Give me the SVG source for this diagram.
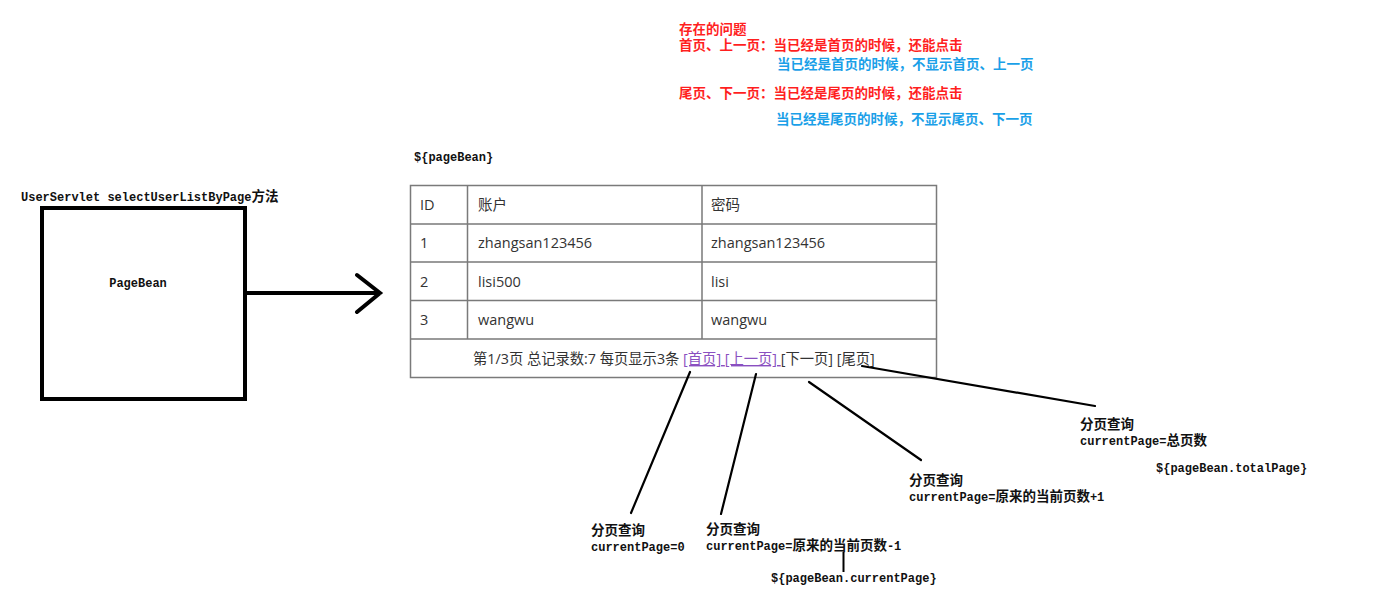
<svg xmlns="http://www.w3.org/2000/svg" width="1400" height="602" viewBox="0 0 1400 602">
<style>
.note{font-family:"Liberation Sans","Noto Sans CJK SC",sans-serif;font-size:13.5px;font-weight:bold}
.red{fill:#ff1f1f}
.blue{fill:#1aa0e8}
.mono{font-family:"Liberation Mono","Noto Sans CJK SC",monospace;font-size:12px;font-weight:bold;fill:#111}
.cj{font-size:13.5px}
.cell{font-family:"Open Sans","Noto Sans CJK SC",sans-serif;font-size:14.5px;fill:#333}
.foot{font-size:14.3px}
.link{fill:#8a4fc0;text-decoration:underline}
.grid{fill:none;stroke:#7a7a7a;stroke-width:1.5}
.ln{stroke:#000;stroke-width:2.2;fill:none;stroke-linecap:round}
</style>
<rect width="1400" height="602" fill="#fff"/>
<g id="notes">
<text class="note red" x="679" y="34">存在的问题</text>
<text class="note red" x="679" y="50">首页、上一页：当已经是首页的时候，还能点击</text>
<text class="note blue" x="777" y="69">当已经是首页的时候，不显示首页、上一页</text>
<text class="note red" x="679" y="98">尾页、下一页：当已经是尾页的时候，还能点击</text>
<text class="note blue" x="776" y="124">当已经是尾页的时候，不显示尾页、下一页</text>
</g>
<g id="servlet">
<text class="mono" x="21" y="201">UserServlet selectUserListByPage<tspan class="cj">方法</tspan></text>
<rect x="42" y="208" width="203" height="191" fill="#fff" stroke="#000" stroke-width="4"/>
<text class="mono" x="138" y="287" text-anchor="middle">PageBean</text>
</g>
<g id="table">
<text class="mono" x="414" y="161">${pageBean}</text>
<rect class="grid" x="410.5" y="185.5" width="526" height="192"/>
<path class="grid" d="M410.5 224H936.5M410.5 262H936.5M410.5 300.5H936.5M410.5 339H936.5M467.5 185.5V339M702 185.5V339"/>
<text class="cell" x="420" y="210">ID</text>
<text class="cell" x="478" y="210">账户</text>
<text class="cell" x="711" y="210">密码</text>
<text class="cell" x="420" y="248">1</text>
<text class="cell" x="478" y="248">zhangsan123456</text>
<text class="cell" x="711" y="248">zhangsan123456</text>
<text class="cell" x="420" y="287">2</text>
<text class="cell" x="478" y="287">lisi500</text>
<text class="cell" x="711" y="287">lisi</text>
<text class="cell" x="420" y="325">3</text>
<text class="cell" x="478" y="325">wangwu</text>
<text class="cell" x="711" y="325">wangwu</text>
<text class="cell foot" x="473" y="364">第1/3页 总记录数:7 每页显示3条 <tspan class="link">[首页] </tspan><tspan class="link">[上一页] </tspan>[下一页] [尾页]</text>
</g>
<g id="labels">
<text class="mono cj" x="591" y="535">分页查询</text>
<text class="mono" x="591" y="551">currentPage=0</text>
<text class="mono cj" x="706" y="534">分页查询</text>
<text class="mono" x="706" y="550">currentPage=<tspan class="cj">原来的当前页数</tspan>-1</text>
<text class="mono" x="771" y="582">${pageBean.currentPage}</text>
<text class="mono cj" x="909" y="485">分页查询</text>
<text class="mono" x="909" y="501">currentPage=<tspan class="cj">原来的当前页数</tspan>+1</text>
<text class="mono cj" x="1080" y="429">分页查询</text>
<text class="mono" x="1080" y="445">currentPage=<tspan class="cj">总页数</tspan></text>
<text class="mono" x="1156" y="472">${pageBean.totalPage}</text>
</g>
<g id="connectors">
<path d="M245 293H380M357 275L380 293L357 312" fill="none" stroke="#000" stroke-width="4" stroke-linecap="round" stroke-linejoin="miter"/>
<path class="ln" d="M690 372L631 513"/>
<path class="ln" d="M756 374L721 514"/>
<path class="ln" d="M809 382L921 460"/>
<path class="ln" d="M862 366L1095 406"/>
<path d="M843.5 552V572" stroke="#000" stroke-width="2"/>
</g>
</svg>
